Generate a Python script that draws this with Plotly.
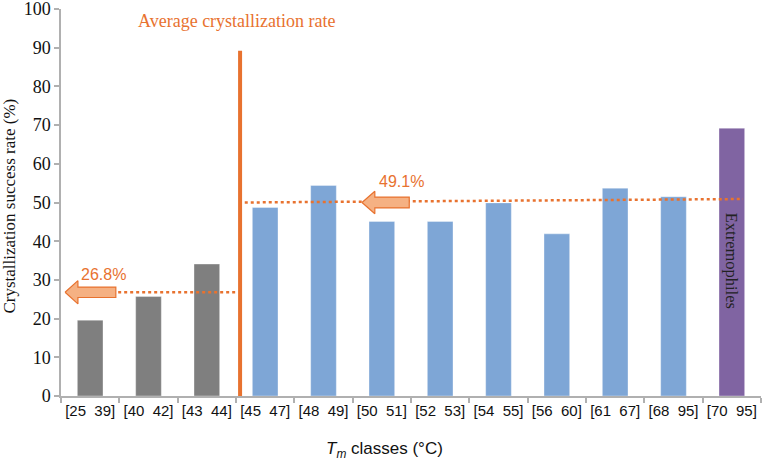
import plotly.graph_objects as go

# ---- data ----
categories = ["[25  39]", "[40  42]", "[43  44]", "[45  47]", "[48  49]", "[50  51]",
              "[52  53]", "[54  55]", "[56  60]", "[61  67]", "[68  95]", "[70  95]"]
values = [19.6, 25.7, 34.1, 48.7, 54.4, 45.1, 45.1, 49.9, 41.9, 53.7, 51.5, 69.2]
groups = ["low", "low", "low", "mid", "mid", "mid", "mid", "mid", "mid", "mid", "mid", "extreme"]
avg_low = 26.8
avg_high = 49.1
avg_high_line = [50.0, 50.9]   # drawn level of dotted line (left end, right end)
divider_x = 2.57
divider_top = 89.2

GRAY = "#7f7f7f"
BLUE = "#7ea6d6"
PURPLE = "#8064a2"
ORANGE = "#e8722f"
ORANGE_LIGHT = "#f5b183"
AXIS = "#b0b0b0"
SERIF = "Liberation Serif, Times New Roman, serif"
SANS = "Liberation Sans, Arial, sans-serif"

color_map = {"low": GRAY, "mid": BLUE, "extreme": PURPLE}
xs = list(range(len(categories)))

fig = go.Figure()
fig.add_trace(go.Bar(
    x=xs, y=values, width=0.44,
    marker=dict(color=[color_map[g] for g in groups],
                line=dict(color="rgba(255,255,255,0.35)", width=1)),
    hoverinfo="skip", showlegend=False))

# divider line
fig.add_trace(go.Scatter(x=[divider_x, divider_x], y=[0, divider_top], mode="lines",
                         line=dict(color=ORANGE, width=4), showlegend=False, hoverinfo="skip"))

# dotted average lines
fig.add_trace(go.Scatter(x=[0.48, 2.5], y=[avg_low, avg_low], mode="lines",
                         line=dict(color=ORANGE, width=2.5, dash="dot"),
                         showlegend=False, hoverinfo="skip"))
fig.add_trace(go.Scatter(x=[2.65, 11.19], y=avg_high_line, mode="lines",
                         line=dict(color=ORANGE, width=2.5, dash="dot"),
                         showlegend=False, hoverinfo="skip"))


def arrow(tip, head_base, tail, yc, head_h, body_h):
    ax = [tip, head_base, head_base, tail, tail, head_base, head_base, tip]
    ay = [yc, yc + head_h, yc + body_h, yc + body_h, yc - body_h, yc - body_h, yc - head_h, yc]
    return go.Scatter(x=ax, y=ay, mode="lines", fill="toself", fillcolor=ORANGE_LIGHT,
                      line=dict(color=ORANGE, width=1.2), showlegend=False, hoverinfo="skip")


fig.add_trace(arrow(-0.43, -0.21, 0.44, avg_low, 3.0, 1.35))
fig.add_trace(arrow(4.66, 4.88, 5.47, avg_high_line[0], 2.9, 1.4))

fig.add_annotation(x=-0.19, y=31.5, text="26.8%", showarrow=False, xanchor="left",
                   font=dict(family=SANS, size=16, color=ORANGE))
fig.add_annotation(x=4.91, y=55.3, text="49.1%", showarrow=False, xanchor="left",
                   font=dict(family=SANS, size=16, color=ORANGE))
fig.add_annotation(x=2.52, y=97.0, text="Average crystallization rate", showarrow=False,
                   font=dict(family=SERIF, size=18, color=ORANGE))
fig.add_annotation(x=11, y=35.0, text="Extremophiles", showarrow=False, textangle=90,
                   font=dict(family=SERIF, size=16.5, color="#222222"))
fig.add_annotation(xref="paper", yref="paper", x=0.462, y=-0.139, yanchor="middle",
                   text="<i>T</i><sub><i>m</i></sub> classes (°C)", showarrow=False,
                   font=dict(family=SANS, size=17, color="#111111"))
fig.add_annotation(xref="paper", yref="paper", x=-0.074, y=0.49, xanchor="center", yanchor="middle",
                   text="Crystallization success rate (%)", showarrow=False, textangle=-90,
                   font=dict(family=SERIF, size=17, color="#111111"))

fig.update_layout(
    width=762, height=462,
    margin=dict(l=61, r=1, t=9, b=66),
    plot_bgcolor="white", paper_bgcolor="white",
    xaxis=dict(range=[-0.5, 11.5], tickvals=xs, ticktext=categories, ticks="",
               automargin=False, ticklabeloverflow="allow",
               showgrid=False, zeroline=False, showline=True, linecolor=AXIS, linewidth=1.5,
               tickfont=dict(family=SANS, size=15, color="#111111"),
               minor=dict(tickvals=[i - 0.5 for i in range(len(categories) + 1)],
                          ticks="outside", ticklen=5, tickcolor=AXIS, tickwidth=1.5, showgrid=False)),
    yaxis=dict(range=[0, 100], dtick=10, ticks="outside", ticklen=5, tickcolor=AXIS, tickwidth=1.5,
               automargin=False, ticklabeloverflow="allow",
               showgrid=False, zeroline=False, showline=True, linecolor=AXIS, linewidth=1.5,
               tickfont=dict(family=SERIF, size=18, color="#111111")),
)

fig.write_html("out.html", config={"displayModeBar": False},
               post_script="document.body.style.margin='0px';document.body.style.overflow='hidden';")
